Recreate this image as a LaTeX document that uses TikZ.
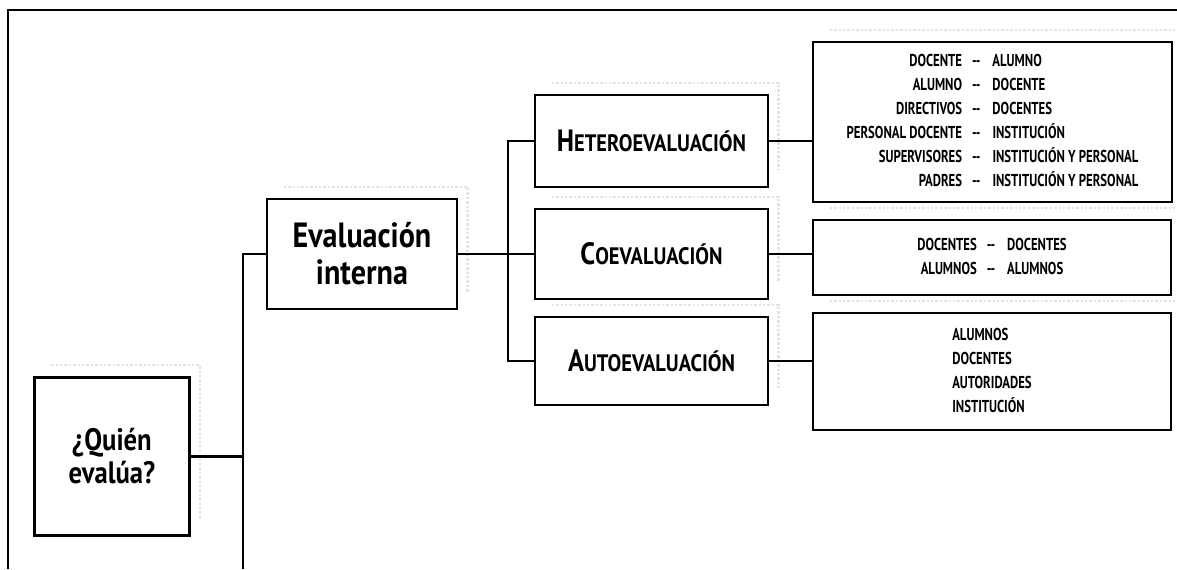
\documentclass[tikz,border=0pt]{standalone}
\usepackage{fontspec}
\setmainfont{PT Sans}[FakeStretch=0.86]
\newfontfamily\estrecha{PT Sans}[FakeStretch=0.74]
\usetikzlibrary{calc}
\def\versalita#1#2{{\fontsize{15.4}{16}\selectfont #1}{\fontsize{11.9}{13}\selectfont #2}}
\def\sombra(#1){\draw[sombra] ($(#1.north west)+(18,-11)$) -- ($(#1.north east)+(9,-11)$) -- ($(#1.south east)+(9,-18)$);}
\tikzset{
  caja/.style={draw, line width=1.3pt, align=center, inner sep=0pt, font=\bfseries\fontsize{17.5}{18.5}\selectfont},
  lista/.style={draw, line width=1.3pt, inner sep=0pt, font=\estrecha\bfseries\fontsize{8.6}{12}\selectfont},
  linea/.style={line width=1.1pt},
  sombra/.style={line width=1.2pt, gray!22, densely dotted},
}

\begin{document}
\begin{tikzpicture}[x=0.5pt, y=-0.5pt]
			%%%%% START %%%%%
			\useasboundingbox (0,0) rectangle (1177,569);
			
			\coordinate (esq) at (8,10);
			\draw[line width=1pt] (1177,10) -- (esq) -- (8,569);
			
			\node[caja, font=\bfseries\fontsize{15.5}{16.5}\selectfont, minimum width=77.5pt, minimum height=79pt] (quien) at (112,456.5) {¿Quién\\evalúa?};
			\node[caja, minimum width=95pt, minimum height=55pt] (interna) at (362,254) {Evaluación\\interna};
			
			\node[caja, minimum width=116.5pt, minimum height=46pt] (hetero) at (651.5,141) {\versalita{H}{ETEROEVALUACIÓN}};
			\node[caja, minimum width=116.5pt, minimum height=45pt] (coev) at (651.5,254) {\versalita{C}{OEVALUACIÓN}};
			\node[caja, minimum width=116.5pt, minimum height=44pt] (autoev) at (651.5,361) {\versalita{A}{UTOEVALUACIÓN}};
			
			\node[lista, minimum width=179.5pt, minimum height=80pt] (lhetero) at (992.5,122) {%
				\begin{tabular}{@{}r@{\hspace{5pt}--\hspace{6pt}}l@{}}
					DOCENTE & ALUMNO\\
					ALUMNO & DOCENTE\\
					DIRECTIVOS & DOCENTES\\
					PERSONAL DOCENTE & INSTITUCIÓN\\
					SUPERVISORES & INSTITUCIÓN Y PERSONAL\\
					PADRES & INSTITUCIÓN Y PERSONAL
				\end{tabular}};
			\node[lista, minimum width=179pt, minimum height=37.5pt] (lcoev) at (992,257.5) {%
				\begin{tabular}{@{}r@{\hspace{5pt}--\hspace{6pt}}l@{}}
					DOCENTES & DOCENTES\\
					ALUMNOS & ALUMNOS
				\end{tabular}};
			\node[lista, minimum width=179pt, minimum height=58.5pt] (lauto) at (992,371.5) {%
				\begin{tabular}{@{}l@{}}
					ALUMNOS\\
					DOCENTES\\
					AUTORIDADES\\
					INSTITUCIÓN
				\end{tabular}};
			
			\sombra(quien)
			\sombra(interna)
			\sombra(hetero)
			\sombra(coev)
			\sombra(autoev)
			\sombra(lhetero)
			\sombra(lcoev)
			\sombra(lauto)
			
			\coordinate (tronco) at (243,569);
			\coordinate (rama) at (508,254);
			\draw[linea] (quien.east) -- (quien.east -| tronco);
			\draw[linea] (interna.west) -| (tronco);
			\draw[linea] (interna.east) -- (coev.west);
			\draw[linea] (hetero.west) -| (rama) |- (autoev.west);
			\draw[linea] (hetero.east) -- (hetero.east -| lhetero.west);
			\draw[linea] (coev.east) -- (coev.east -| lcoev.west);
			\draw[linea] (autoev.east) -- (autoev.east -| lauto.west);
			
			%%%%% END %%%%%
		\end{tikzpicture}
\end{document}
